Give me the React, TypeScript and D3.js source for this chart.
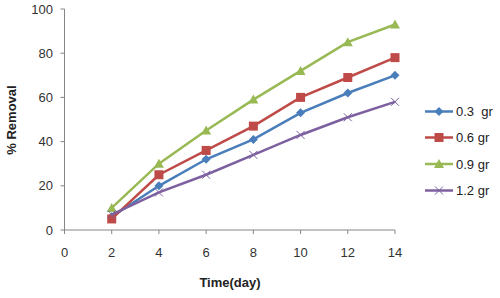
import React from "react";
import * as d3 from "d3";

const days = [2, 4, 6, 8, 10, 12, 14];
const s03 = [6, 20, 32, 41, 53, 62, 70];
const s06 = [5, 25, 36, 47, 60, 69, 78];
const s09 = [10, 30, 45, 59, 72, 85, 93];
const s12 = [7, 17, 25, 34, 43, 51, 58];
const seriesNames = ["0.3  gr", "0.6 gr", "0.9 gr", "1.2 gr"];
const xTicks = [0, 2, 4, 6, 8, 10, 12, 14];
const yTicks = [0, 20, 40, 60, 80, 100];

const colors = ["#4A7EBB", "#BE4B48", "#98B954", "#7D60A0"];
const markers = ["diamond", "square", "triangle", "x"];

const FONT = "'Liberation Sans', Arial, sans-serif";

function Marker({ type, x, y, color }: { type: string; x: number; y: number; color: string }) {
  if (type === "diamond") {
    const r = 4.5;
    return <path d={`M${x},${y - r}L${x + r},${y}L${x},${y + r}L${x - r},${y}Z`} fill={color} />;
  }
  if (type === "square") {
    const r = 4.5;
    return <rect x={x - r} y={y - r} width={2 * r} height={2 * r} fill={color} />;
  }
  if (type === "triangle") {
    const r = 5;
    return <path d={`M${x},${y - r}L${x + r},${y + r * 0.8}L${x - r},${y + r * 0.8}Z`} fill={color} />;
  }
  const r = 4;
  return (
    <path d={`M${x - r},${y - r}L${x + r},${y + r}M${x - r},${y + r}L${x + r},${y - r}`} stroke={color} strokeWidth={1} fill="none" />
  );
}

export default function App() {
  const x = d3.scaleLinear().domain([0, 14]).range([64.5, 395]);
  const y = d3.scaleLinear().domain([0, 100]).range([230, 9]);
  const all = [s03, s06, s09, s12];
  const line = d3
    .line<number>()
    .x((_, i) => x(days[i]))
    .y((d) => y(d));
  const axisColor = "#868686";
  const legendY = [111.5, 137.5, 164, 190.5];
  return (
    <svg width={500} height={298} style={{ position: "absolute", left: 0, top: 0, background: "#fff" }} fontFamily={FONT}>
      {/* y axis */}
      <line x1={x(0)} x2={x(0)} y1={y(0)} y2={y(100)} stroke={axisColor} />
      {yTicks.map((t) => (
        <g key={t}>
          <line x1={x(0) - 4} x2={x(0)} y1={y(t)} y2={y(t)} stroke={axisColor} />
          <text x={53} y={y(t)} dy="0.35em" textAnchor="end" fontSize={13} fill="#333">
            {t}
          </text>
        </g>
      ))}
      {/* x axis */}
      <line x1={x(0)} x2={x(14)} y1={y(0)} y2={y(0)} stroke={axisColor} />
      {xTicks.map((t) => (
        <g key={t}>
          <line x1={x(t)} x2={x(t)} y1={y(0)} y2={y(0) + 4} stroke={axisColor} />
          <text x={x(t)} y={257} textAnchor="middle" fontSize={13} fill="#333">
            {t}
          </text>
        </g>
      ))}
      <text x={230} y={287} textAnchor="middle" fontSize={13} fontWeight="bold" fill="#222">
        Time(day)
      </text>
      <text transform={`translate(16,${120}) rotate(-90)`} textAnchor="middle" fontSize={13} fontWeight="bold" fill="#222">
        % Removal
      </text>
      {/* series */}
      {all.map((s, k) => (
        <g key={k}>
          <path d={line(s) || ""} fill="none" stroke={colors[k]} strokeWidth={2.5} />
          {s.map((v, i) => (
            <Marker key={i} type={markers[k]} x={x(days[i])} y={y(v)} color={colors[k]} />
          ))}
        </g>
      ))}
      {/* legend */}
      {seriesNames.map((n, k) => (
        <g key={n}>
          <line x1={425} x2={453} y1={legendY[k]} y2={legendY[k]} stroke={colors[k]} strokeWidth={2.5} />
          <Marker type={markers[k]} x={439} y={legendY[k]} color={colors[k]} />
          <text x={456} y={legendY[k]} dy="0.35em" fontSize={13} fill="#222" style={{ whiteSpace: "pre" }}>
            {n}
          </text>
        </g>
      ))}
    </svg>
  );
}
